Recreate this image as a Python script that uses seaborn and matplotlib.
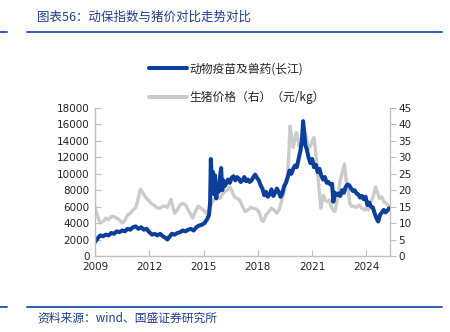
import numpy as np
import pandas as pd
import matplotlib
matplotlib.use("Agg")
import matplotlib.pyplot as plt
import seaborn as sns

# ---------------- data ----------------
vac_x = [2009.00, 2009.10, 2009.20, 2009.30, 2009.45, 2009.60, 2009.75, 2009.90,
         2010.05, 2010.20, 2010.35, 2010.50, 2010.65, 2010.80, 2010.95, 2011.10,
         2011.25, 2011.40, 2011.55, 2011.70, 2011.85, 2012.00, 2012.15, 2012.30,
         2012.45, 2012.60, 2012.75, 2012.90, 2013.00, 2013.10, 2013.25, 2013.40,
         2013.55, 2013.70, 2013.85, 2014.00, 2014.15, 2014.30, 2014.45, 2014.60,
         2014.75, 2014.90, 2015.05, 2015.20, 2015.30, 2015.36, 2015.40, 2015.46,
         2015.52, 2015.58, 2015.63, 2015.70, 2015.77, 2015.83, 2015.90, 2015.97,
         2016.03, 2016.10, 2016.17, 2016.25, 2016.35, 2016.45, 2016.55, 2016.65,
         2016.75, 2016.85, 2016.95, 2017.05, 2017.15, 2017.25, 2017.35, 2017.45,
         2017.55, 2017.65, 2017.75, 2017.85, 2017.95, 2018.05, 2018.15, 2018.25,
         2018.35, 2018.45, 2018.55, 2018.65, 2018.75, 2018.85, 2018.95, 2019.05,
         2019.15, 2019.25, 2019.35, 2019.45, 2019.55, 2019.65, 2019.75, 2019.85,
         2019.95, 2020.05, 2020.15, 2020.25, 2020.35, 2020.43, 2020.50, 2020.55,
         2020.62, 2020.70, 2020.80, 2020.90, 2021.00, 2021.10, 2021.20, 2021.30,
         2021.40, 2021.50, 2021.60, 2021.70, 2021.80, 2021.90, 2022.00, 2022.10,
         2022.17, 2022.25, 2022.35, 2022.45, 2022.55, 2022.65, 2022.75, 2022.85,
         2022.95, 2023.05, 2023.15, 2023.25, 2023.35, 2023.45, 2023.55, 2023.65,
         2023.75, 2023.85, 2023.95, 2024.05, 2024.15, 2024.25, 2024.35, 2024.45,
         2024.55, 2024.65, 2024.75, 2024.85, 2024.95, 2025.05, 2025.15, 2025.25]
vac_y = [1700, 2000, 2300, 2500, 2400, 2600, 2500, 2800,
         2700, 3000, 2900, 3100, 3000, 3300, 3200, 3500,
         3600, 3300, 3500, 3200, 3300, 2900, 2600, 2700,
         2500, 2700, 2400, 2200, 2000, 2300, 2700, 2600,
         2800, 2900, 3100, 3000, 3200, 3300, 3100, 3500,
         3700, 3800, 4000, 4500, 5000, 6500, 11800, 9000,
         10200, 7500, 9800, 7000, 8500, 7800, 9500, 10700,
         8000, 9200, 8500, 8800, 9300, 8900, 9500, 9700,
         9200, 9600, 9400, 9000, 9200, 9600, 9100, 9300,
         9000, 9200, 9600, 9900, 9500, 9200, 8600, 8200,
         7400, 7800, 7200, 7500, 8100, 7300, 7700, 8200,
         7800, 7200, 7600, 8500, 8900, 9600, 10400, 10000,
         10600, 11000, 10800, 11800, 12800, 14000, 16400, 15200,
         13500, 13000, 12000, 11300, 11800, 10800, 11100, 10200,
         10600, 9800, 9300, 9600, 8900, 9000, 8700, 8800,
         6600, 7700, 7400, 7600, 7300, 8000, 7700, 8400,
         8700, 8600, 8200, 7900, 8000, 7600, 7500, 7100,
         7300, 6900, 7200, 6200, 6500, 6000, 5900, 5200,
         4600, 4200, 5000, 5300, 5600, 5300, 5500, 5800]

pig_x = [2009.00, 2009.15, 2009.30, 2009.45, 2009.60, 2009.75, 2009.90, 2010.05,
         2010.20, 2010.35, 2010.50, 2010.65, 2010.80, 2010.95, 2011.10, 2011.25,
         2011.35, 2011.50, 2011.60, 2011.72, 2011.85, 2011.95, 2012.10, 2012.25,
         2012.40, 2012.55, 2012.70, 2012.85, 2013.00, 2013.10, 2013.20, 2013.30,
         2013.40, 2013.55, 2013.70, 2013.85, 2014.00, 2014.15, 2014.30, 2014.40,
         2014.55, 2014.70, 2014.85, 2015.00, 2015.15, 2015.30, 2015.45, 2015.60,
         2015.75, 2015.90, 2016.00, 2016.15, 2016.30, 2016.45, 2016.55, 2016.70,
         2016.85, 2017.00, 2017.15, 2017.30, 2017.45, 2017.60, 2017.75, 2017.90,
         2018.05, 2018.20, 2018.30, 2018.45, 2018.60, 2018.75, 2018.90, 2019.05,
         2019.20, 2019.35, 2019.50, 2019.62, 2019.70, 2019.78, 2019.85, 2019.95,
         2020.05, 2020.12, 2020.20, 2020.28, 2020.38, 2020.48, 2020.58, 2020.68,
         2020.78, 2020.90, 2021.00, 2021.10, 2021.20, 2021.30, 2021.40, 2021.48,
         2021.55, 2021.62, 2021.72, 2021.85, 2021.95, 2022.05, 2022.15, 2022.25,
         2022.35, 2022.45, 2022.55, 2022.65, 2022.78, 2022.88, 2022.98, 2023.08,
         2023.18, 2023.30, 2023.45, 2023.60, 2023.75, 2023.90, 2024.00, 2024.10,
         2024.25, 2024.40, 2024.50, 2024.60, 2024.72, 2024.85, 2024.95, 2025.10,
         2025.25]
pig_y = [15.0, 12.0, 10.0, 10.5, 11.5, 11.0, 12.0, 12.0,
         11.5, 11.0, 10.0, 10.8, 12.5, 13.0, 14.0, 14.8,
         16.5, 20.3, 19.5, 18.5, 17.5, 17.0, 16.0, 15.5,
         14.8, 14.5, 15.0, 15.2, 14.8, 16.0, 17.2, 15.0,
         13.0, 14.0, 15.5, 16.0, 15.5, 14.0, 12.5, 11.5,
         13.5, 15.2, 14.5, 14.0, 13.0, 13.8, 16.0, 17.5,
         18.0, 17.5, 18.5, 19.5, 20.0, 21.0, 20.0, 18.0,
         17.5, 17.0, 15.0, 13.5, 14.0, 14.8, 14.5, 14.3,
         13.5, 11.0, 10.5, 12.5, 13.5, 14.5, 14.0, 13.0,
         14.5, 17.5, 21.0, 24.0, 30.0, 39.5, 37.0, 33.0,
         35.5, 37.5, 36.0, 33.5, 35.0, 37.5, 38.0, 36.5,
         32.5, 33.5, 35.0, 36.0, 31.0, 26.0, 19.0, 14.5,
         17.0, 18.5, 17.0, 16.5, 17.0, 15.0, 14.0, 13.5,
         16.0, 19.0, 23.0, 25.0, 28.0, 23.0, 20.5, 16.0,
         15.0, 15.2, 14.8, 15.5, 14.5, 14.0, 14.5, 14.0,
         16.5, 18.5, 21.0, 19.5, 17.5, 18.0, 16.5, 16.0,
         15.0]

left_ticks = [0, 2000, 4000, 6000, 8000, 10000, 12000, 14000, 16000, 18000]
right_ticks = [0, 5, 10, 15, 20, 25, 30, 35, 40, 45]
year_ticks = [2009, 2012, 2015, 2018, 2021, 2024]

label_vac = "动物疫苗及兽药(长江)"
label_pig = "生猪价格（右）（元/kg）"
title = "图表56：动保指数与猪价对比走势对比"
source = "资料来源：wind、国盛证券研究所"

# ---------------- style ----------------
sns.set_style("white")
plt.rcParams['font.family'] = ['DejaVu Sans', 'Noto Sans CJK SC']
cjk = ['Noto Sans CJK SC', 'DejaVu Sans']

BLUE = "#0B3F9B"
GRAY = "#CBCBCB"
SPINE = "#BFBFBF"
TITLE_C = "#1F3F8F"
LINE_C = "#2F5DB5"

fig = plt.figure(figsize=(4.5, 3.32), dpi=100)
ax = fig.add_axes([95/450, 1-256/332, (390-95)/450, (256-108)/332])
ax2 = ax.twinx()

df_v = pd.DataFrame({"x": vac_x, "y": vac_y})
df_p = pd.DataFrame({"x": pig_x, "y": pig_y})

sns.lineplot(data=df_p, x="x", y="y", ax=ax2, color=GRAY, linewidth=2.4, legend=False)
sns.lineplot(data=df_v, x="x", y="y", ax=ax, color=BLUE, linewidth=2.9, legend=False)
ax.set_zorder(ax2.get_zorder() + 1)
ax.patch.set_visible(False)

ax.set_xlim(2009, 2025.3)
ax.set_ylim(0, 18000)
ax2.set_ylim(0, 45)
ax.set_yticks(left_ticks)
ax2.set_yticks(right_ticks)
ax.set_xticks(year_ticks)
ax.set_xticklabels([str(t) for t in year_ticks])
ax.set_xlabel("")
ax.set_ylabel("")
ax2.set_ylabel("")

for a in (ax, ax2):
    for s in a.spines.values():
        s.set_color(SPINE)
        s.set_linewidth(1.0)
    a.spines['top'].set_visible(False)
ax.spines['right'].set_visible(False)
ax2.spines['left'].set_visible(False)
ax2.spines['bottom'].set_visible(False)

ax.tick_params(axis='x', direction='in', length=4, color=SPINE, labelsize=7.5, pad=4, bottom=True)
ax.tick_params(axis='y', direction='in', length=4, color=SPINE, labelsize=7.5, pad=4, left=True)
ax2.tick_params(axis='y', direction='out', length=4, color=SPINE, labelsize=7.5, pad=2, right=True)

# legend
from matplotlib.lines import Line2D
handles = [Line2D([], [], color=BLUE, linewidth=2.9), Line2D([], [], color=GRAY, linewidth=2.9)]
leg = fig.legend(handles, [label_vac, label_pig], loc="upper left",
                 bbox_to_anchor=(141/450, 1-54/332), frameon=False,
                 prop={'family': cjk, 'size': 8.5}, handlelength=3.2,
                 handletextpad=0.2, labelspacing=1.3, borderpad=0.2)

# title, rules, source
fig.text(37/450, 1-17/332, title, fontsize=9, color=TITLE_C, style='italic',
         family=cjk, va='center', ha='left')
fig.add_artist(Line2D([27/450, 442/450], [1-32/332, 1-32/332], color=LINE_C, linewidth=1.4))
fig.add_artist(Line2D([0, 7/450], [1-32/332, 1-32/332], color=LINE_C, linewidth=1.4))
fig.add_artist(Line2D([27/450, 442/450], [1-307/332, 1-307/332], color=LINE_C, linewidth=1.4))
fig.add_artist(Line2D([0, 7/450], [1-307/332, 1-307/332], color=LINE_C, linewidth=1.4))
fig.text(37/450, 1-318/332, source, fontsize=8.5, color=TITLE_C, style='italic',
         family=cjk, va='center', ha='left')

fig.savefig("out.png", dpi=100)
